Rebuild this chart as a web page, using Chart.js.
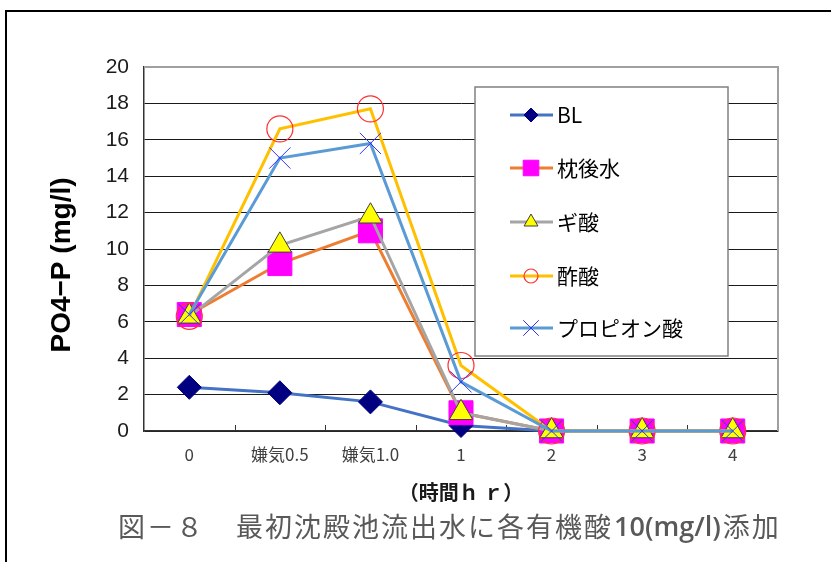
<!DOCTYPE html>
<html>
<head>
<meta charset="utf-8">
<script src="https://cdn.jsdelivr.net/npm/chart.js@4.4.1/dist/chart.umd.min.js"></script>
<style>
  html, body { margin: 0; padding: 0; background: #ffffff; }
  #wrap { width: 831px; height: 562px; position: relative; }
</style>
</head>
<body>
<div id="wrap"><canvas id="c" width="831" height="562"></canvas></div>
<script>
// Sampling times (hr); the two anaerobic stages sit between 0 and 1
const categories = ['0', '嫌気0.5', '嫌気1.0', '1', '2', '3', '4'];
const seriesNames = ['BL', '枕後水', 'ギ酸', '酢酸', 'プロピオン酸'];

// PO4-P concentration (mg/l)
const blValues        = [2.4, 2.1, 1.6, 0.3, 0, 0, 0];
const makuraValues    = [6.4, 9.2, 11.0, 1.0, 0, 0, 0];
const formicValues    = [6.3, 10.2, 11.8, 1.0, 0, 0, 0];
const aceticValues    = [6.3, 16.6, 17.7, 3.6, 0, 0, 0];
const propionicValues = [6.4, 15.0, 15.8, 2.7, 0, 0, 0];

const yMin = 0;
const yMax = 20;
const yStep = 2;

const yTitle = 'PO4−P (mg/l)';
const xTitle = '（時間ｈ ｒ）';
// caption pieces: figure number, description, dose, verb
const captionParts = ['図－８', '最初沈殿池流出水に各有機酸', '10(mg/l)', '添加'];

const LATIN = "'Liberation Sans', Arial, 'Noto Sans CJK JP', sans-serif";
const CJK = "'Noto Sans CJK JP', 'Liberation Sans', sans-serif";

const styles = [
  { line: '#4472C4', pointStyle: 'rectRot',  r: 12,   fill: '#000080', stroke: '#000080', bw: 1, lr: 7 },
  { line: '#ED7D31', pointStyle: 'rect',     r: 17,   fill: '#FF00FF', stroke: '#FF00FF', bw: 1, lr: 11 },
  { line: '#A5A5A5', pointStyle: 'triangle', r: 13.5, fill: '#FFFF00', stroke: '#404040', bw: 1, lr: 8 },
  { line: '#FFC000', pointStyle: 'circle',   r: 13,   fill: 'rgba(0,0,0,0)', stroke: '#FF3030', bw: 1.2, lr: 7 },
  { line: '#5B9BD5', pointStyle: 'crossRot', r: 15,   fill: 'rgba(0,0,0,0)', stroke: '#3333FF', bw: 1, lr: 11 }
];
const seriesValues = [blValues, makuraValues, formicValues, aceticValues, propionicValues];

const datasets = seriesNames.map((name, i) => ({
  label: name,
  data: seriesValues[i],
  borderColor: styles[i].line,
  backgroundColor: styles[i].line,
  borderWidth: 3,
  tension: 0,
  pointStyle: styles[i].pointStyle,
  pointRadius: styles[i].r,
  pointHoverRadius: styles[i].r,
  pointBackgroundColor: styles[i].fill,
  pointBorderColor: styles[i].stroke,
  pointBorderWidth: styles[i].bw,
  clip: false,
  // later series are painted over earlier ones
  order: seriesNames.length - i
}));

// small marker for the legend rows
function drawMarker(ctx, st, x, y) {
  const r = st.lr;
  ctx.save();
  ctx.fillStyle = st.fill;
  ctx.strokeStyle = st.stroke;
  ctx.lineWidth = st.bw;
  ctx.beginPath();
  if (st.pointStyle === 'rectRot') {
    ctx.moveTo(x - r, y); ctx.lineTo(x, y - r); ctx.lineTo(x + r, y); ctx.lineTo(x, y + r); ctx.closePath();
    ctx.fill(); ctx.stroke();
  } else if (st.pointStyle === 'rect') {
    const h = r * Math.SQRT1_2;
    ctx.rect(x - h, y - h, 2 * h, 2 * h);
    ctx.fill(); ctx.stroke();
  } else if (st.pointStyle === 'triangle') {
    const s = r * Math.sqrt(3) / 2;
    ctx.moveTo(x, y - r); ctx.lineTo(x + s, y + r / 2); ctx.lineTo(x - s, y + r / 2); ctx.closePath();
    ctx.fill(); ctx.stroke();
  } else if (st.pointStyle === 'circle') {
    ctx.arc(x, y, r, 0, Math.PI * 2);
    ctx.stroke();
  } else if (st.pointStyle === 'crossRot') {
    const h = r * Math.SQRT1_2;
    ctx.moveTo(x - h, y - h); ctx.lineTo(x + h, y + h);
    ctx.moveTo(x + h, y - h); ctx.lineTo(x - h, y + h);
    ctx.stroke();
  }
  ctx.restore();
}

const decorations = {
  id: 'decorations',
  beforeDatasetsDraw(chart) {
    const { ctx, chartArea: a, scales } = chart;
    const xs = scales.x;
    ctx.save();
    // top and right edges of the plot area
    ctx.strokeStyle = '#a0a0a0';
    ctx.lineWidth = 2;
    ctx.beginPath();
    ctx.moveTo(a.left, a.top); ctx.lineTo(a.right, a.top); ctx.lineTo(a.right, a.bottom);
    ctx.stroke();
    // inward tick marks between categories
    ctx.strokeStyle = '#333333';
    ctx.lineWidth = 1;
    ctx.beginPath();
    for (let i = 0; i < categories.length - 1; i++) {
      const x = Math.round((xs.getPixelForValue(i) + xs.getPixelForValue(i + 1)) / 2) + 0.5;
      ctx.moveTo(x, a.bottom); ctx.lineTo(x, a.bottom - 6);
    }
    ctx.stroke();
    ctx.restore();
  },
  afterDraw(chart) {
    const { ctx } = chart;
    ctx.save();
    // outer frame
    ctx.strokeStyle = '#000000';
    ctx.lineWidth = 2;
    ctx.beginPath();
    ctx.moveTo(6, 562); ctx.lineTo(6, 11); ctx.lineTo(831, 11);
    ctx.stroke();

    // vertical axis title
    ctx.save();
    ctx.translate(62, 265);
    ctx.rotate(-Math.PI / 2);
    ctx.font = 'bold 28px ' + LATIN;
    ctx.fillStyle = '#000000';
    ctx.textAlign = 'center';
    ctx.textBaseline = 'middle';
    ctx.fillText(yTitle, 0, 0);
    ctx.restore();

    // figure caption
    ctx.save();
    ctx.fillStyle = '#595959';
    ctx.textAlign = 'left';
    ctx.textBaseline = 'middle';
    const cy = 527;
    ctx.font = '27px ' + CJK;
    if ('letterSpacing' in ctx) ctx.letterSpacing = '2px';
    ctx.fillText(captionParts[0], 118, cy);
    let cx = 236;
    ctx.fillText(captionParts[1], cx, cy);
    cx += ctx.measureText(captionParts[1]).width + 1;
    if ('letterSpacing' in ctx) ctx.letterSpacing = '0px';
    ctx.font = '600 27px ' + "'Open Sans', 'Liberation Sans', sans-serif";
    ctx.fillText(captionParts[2], cx, cy + 1);
    cx += ctx.measureText(captionParts[2]).width + 2;
    ctx.font = '27px ' + CJK;
    if ('letterSpacing' in ctx) ctx.letterSpacing = '2px';
    ctx.fillText(captionParts[3], cx, cy);
    ctx.restore();

    // legend box
    const box = { left: 475, top: 87, right: 728, bottom: 356 };
    ctx.fillStyle = '#ffffff';
    ctx.fillRect(box.left, box.top, box.right - box.left, box.bottom - box.top);
    ctx.strokeStyle = '#808080';
    ctx.lineWidth = 1.5;
    ctx.strokeRect(box.left, box.top, box.right - box.left, box.bottom - box.top);
    const rowY = [115, 168, 222, 276, 328];
    chart.data.datasets.forEach((ds, i) => {
      const y = rowY[i];
      ctx.strokeStyle = ds.borderColor;
      ctx.lineWidth = 3;
      ctx.beginPath();
      ctx.moveTo(510, y); ctx.lineTo(553, y);
      ctx.stroke();
      drawMarker(ctx, styles[i], 531, y);
      ctx.font = '21px ' + CJK;
      ctx.fillStyle = '#000000';
      ctx.textAlign = 'left';
      ctx.textBaseline = 'middle';
      ctx.fillText(ds.label, 557, y);
    });
    ctx.restore();
  }
};

new Chart(document.getElementById('c'), {
  type: 'line',
  data: { labels: categories, datasets },
  plugins: [decorations],
  options: {
    responsive: false,
    animation: false,
    events: [],
    layout: { padding: { top: 67, right: 53, bottom: 0, left: 0 } },
    plugins: {
      legend: { display: false },
      title: { display: false },
      tooltip: { enabled: false }
    },
    scales: {
      x: {
        type: 'category',
        offset: true,
        grid: { display: false, drawTicks: false },
        border: { display: true, color: '#333333', width: 1.5 },
        ticks: {
          font: { size: 17, family: CJK },
          color: '#404040',
          padding: 13,
          maxRotation: 0,
          autoSkip: false
        },
        title: {
          display: true,
          text: xTitle,
          font: { size: 20, weight: 'bold', family: CJK },
          color: '#1a1a1a',
          padding: { top: 0, bottom: 58 }
        },
        afterFit(scale) { scale.height = 131; }
      },
      y: {
        min: yMin,
        max: yMax,
        ticks: {
          stepSize: yStep,
          font: { size: 21, family: LATIN },
          color: '#1a1a1a',
          padding: 15
        },
        grid: {
          drawTicks: false,
          lineWidth: 1,
          color: (c) => (c.tick && c.tick.value === yMax ? '#a0a0a0' : '#1a1a1a')
        },
        border: { display: true, color: '#333333', width: 1.5 },
        afterFit(scale) { scale.width = 144; }
      }
    }
  }
});
</script>
</body>
</html>
